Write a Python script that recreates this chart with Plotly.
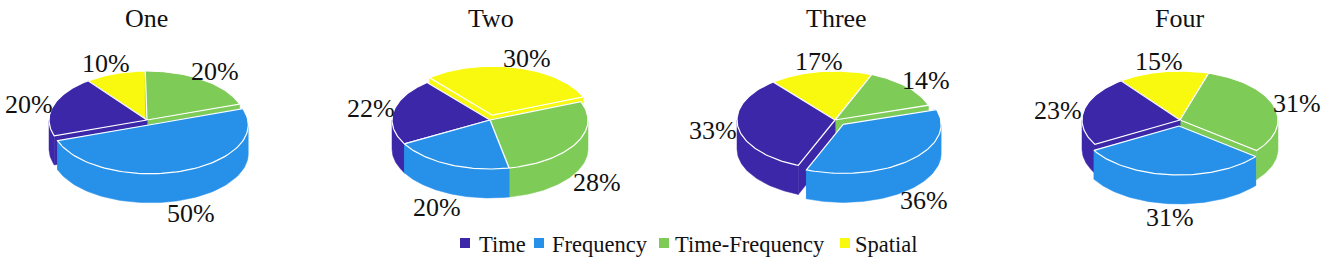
import numpy as np
import plotly.graph_objects as go

pies = ["One", "Two", "Three", "Four"]
time_share = [20, 22, 33, 23]
frequency_share = [50, 20, 36, 31]
time_frequency_share = [20, 28, 14, 31]
spatial_share = [10, 30, 17, 15]
categories = ["Time", "Frequency", "Time-Frequency", "Spatial"]

colors = {"Time": "#3C27A8", "Frequency": "#2791EA", "Time-Frequency": "#7FCB58", "Spatial": "#F9F90F"}
series = {"Time": time_share, "Frequency": frequency_share,
          "Time-Frequency": time_frequency_share, "Spatial": spatial_share}
# clockwise drawing order around each pie
order = ["Time-Frequency", "Frequency", "Time", "Spatial"]

# layout of each pie: centre x, start angle, exploded category, explode distance
centers_x = [147, 490, 835, 1180]
start_angles = [-1, 68, 22, 17]
exploded = ["Frequency", "Spatial", "Frequency", "Frequency"]
explode_dist = [10, 10, 12, 12]
CY, RX, RY, DEPTH = 120, 98, 49, 29

label_pos = {
    "One": {"Time": (29, 104), "Spatial": (106, 63), "Time-Frequency": (215, 71), "Frequency": (191, 213)},
    "Two": {"Time": (371, 108), "Frequency": (437, 207), "Time-Frequency": (597, 182), "Spatial": (527, 58)},
    "Three": {"Time": (713, 130), "Frequency": (924, 200), "Time-Frequency": (926, 80), "Spatial": (819, 61)},
    "Four": {"Time": (1058, 110), "Time-Frequency": (1297, 103), "Frequency": (1170, 217), "Spatial": (1159, 61)},
}
title_x = [146, 491, 836, 1179]
legend_square_x = [465, 539, 664, 845]
legend_text_x = [477, 550, 673, 853]
FONT = "Liberation Serif"
INK = "#111111"

fig = go.Figure()


def poly(xs, ys, color, line, name, width=1.2):
    fig.add_trace(go.Scatter(x=xs, y=ys, mode="lines", fill="toself", fillcolor=color,
                             line=dict(color=line, width=width), showlegend=False,
                             name=name, hoverinfo="name"))


annotations = []
for i, pie in enumerate(pies):
    cx = centers_x[i]
    ang = start_angles[i]
    slices = []
    for cat in order:
        v = series[cat][i]
        span = v * 3.6
        slices.append((cat, v, ang, ang + span))
        ang += span

    # painter's order: slices whose middle points away from the viewer go first
    for cat, v, a, b in sorted(slices, key=lambda s: -np.cos(np.radians((s[2] + s[3]) / 2))):
        mid = np.radians((a + b) / 2)
        d = explode_dist[i] if cat == exploded[i] else 0
        ox = cx + d * np.sin(mid)
        oy = CY - d * RY / RX * np.cos(mid)
        th = np.radians(np.linspace(a, b, 80))
        ex = ox + RX * np.sin(th)
        ey = oy - RY * np.cos(th)
        c = colors[cat]
        name = f"{pie}: {cat} {v}%"
        # inner cut faces
        for k in (0, -1):
            poly([ox, ex[k], ex[k], ox, ox], [oy, ey[k], ey[k] + DEPTH, oy + DEPTH, oy], c, c, name, 0.5)
        # outer wall, only where it faces the viewer
        front = np.cos(th) <= 0
        if front.any():
            fx, fy = ex[front], ey[front]
            poly(np.r_[fx, fx[::-1], fx[0]], np.r_[fy, fy[::-1] + DEPTH, fy[0]], c, c, name, 0.5)
        # top
        poly(np.r_[ox, ex, ox], np.r_[oy, ey, oy], c, "#FFFFFF", name)
        lx, ly = label_pos[pie][cat]
        annotations.append(dict(x=lx, y=ly, text=f"{v}%", showarrow=False, xref="x", yref="y",
                                font=dict(family=FONT, size=26, color=INK)))
    annotations.append(dict(x=title_x[i], y=18, text=pie, showarrow=False, xref="x", yref="y",
                            font=dict(family=FONT, size=26, color=INK)))

# key below the pies
for cat, sx, tx in zip(categories, legend_square_x, legend_text_x):
    fig.add_trace(go.Scatter(x=[sx], y=[243], mode="markers", name=cat, showlegend=False,
                             marker=dict(symbol="square", size=10, color=colors[cat])))
    annotations.append(dict(x=tx, y=244, text=cat, showarrow=False, xref="x", yref="y", xanchor="left",
                            font=dict(family=FONT, size=22.5, color=INK)))

fig.update_layout(
    width=1325, height=260, margin=dict(l=0, r=0, t=0, b=0),
    paper_bgcolor="white", plot_bgcolor="white", annotations=annotations, showlegend=False,
    xaxis=dict(range=[0, 1325], visible=False, fixedrange=True),
    yaxis=dict(range=[260, 0], visible=False, fixedrange=True),
)
fig.write_html("out.html", config={"displayModeBar": False},
               post_script="document.body.style.margin='0';document.body.style.overflow='hidden';")
